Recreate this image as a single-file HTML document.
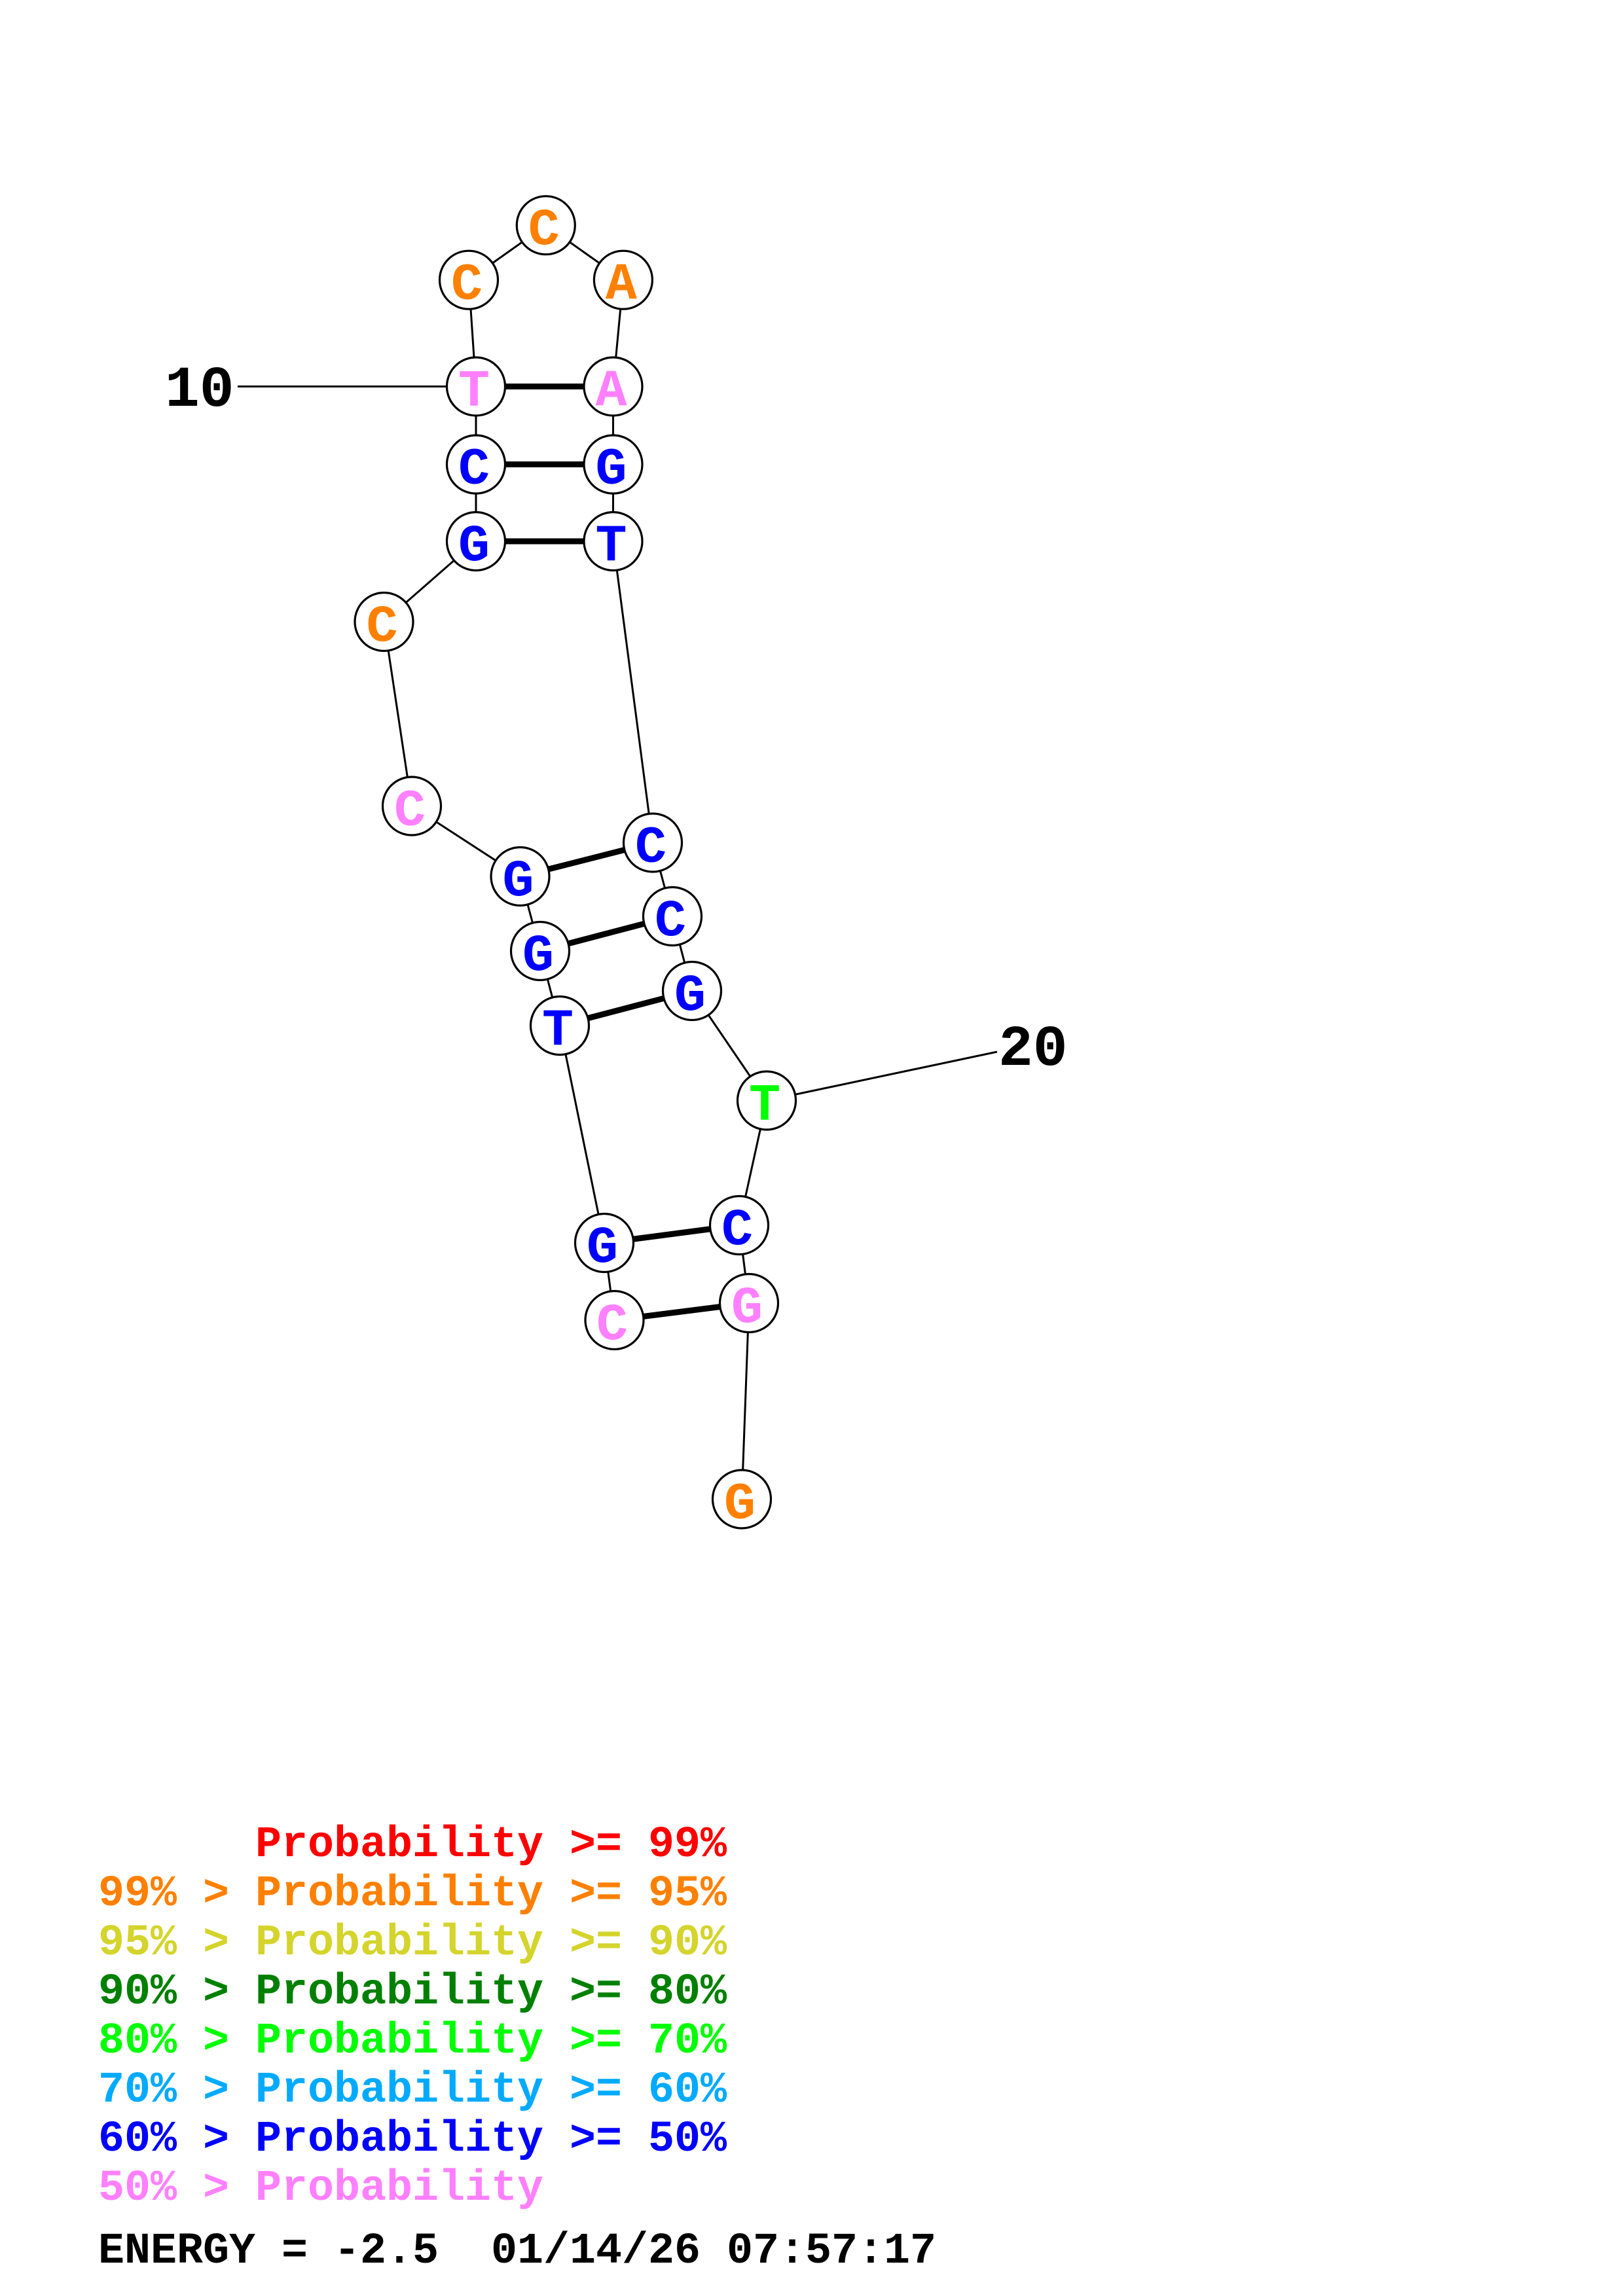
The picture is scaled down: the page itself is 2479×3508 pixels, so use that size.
<!DOCTYPE html>
<html>
<head>
<meta charset="utf-8">
<style>
html,body{margin:0;padding:0;background:#fff;}
svg{display:block;}
.nt{font-family:"Liberation Mono","DejaVu Sans Mono",monospace;font-weight:bold;font-size:80px;text-anchor:middle;}
.lbl{font-family:"Liberation Mono","DejaVu Sans Mono",monospace;font-weight:bold;font-size:88px;}
.leg{font-family:"Liberation Mono","DejaVu Sans Mono",monospace;font-weight:bold;font-size:66.67px;white-space:pre;}
</style>
</head>
<body>
<svg width="2479" height="3508" viewBox="0 0 2479 3508" xmlns="http://www.w3.org/2000/svg">
<rect width="2479" height="3508" fill="#fff"/>
<!-- label connectors -->
<g stroke="#000" stroke-width="3" fill="none">
<line x1="363" y1="590.5" x2="727" y2="590.5"/>
<line x1="1171" y1="1681.5" x2="1523" y2="1607"/>
</g>
<!-- backbone -->
<polyline fill="none" stroke="#000" stroke-width="3" points="938.5,2017 923,1899 855,1567 825,1453 794.5,1339 629,1231.5 586.5,950 727,827 727,709.5 727,590.5 716,427.7 833.8,344.2 951.9,427.7 936.5,590.5 936.5,709.5 936.5,827 997,1287.5 1027,1400 1057,1514 1171,1681.5 1129,1872 1144,1991 1133,2290.5"/>
<!-- pairs -->
<g stroke="#000" stroke-width="9">
<line x1="938.5" y1="2017" x2="1144" y2="1991"/>
<line x1="923" y1="1899" x2="1129" y2="1872"/>
<line x1="855" y1="1567" x2="1057" y2="1514"/>
<line x1="825" y1="1453" x2="1027" y2="1400"/>
<line x1="794.5" y1="1339" x2="997" y2="1287.5"/>
<line x1="727" y1="827" x2="936.5" y2="827"/>
<line x1="727" y1="709.5" x2="936.5" y2="709.5"/>
<line x1="727" y1="590.5" x2="936.5" y2="590.5"/>
</g>
<!-- nodes -->
<g stroke="#000" stroke-width="3.2" fill="#fff">
<circle cx="938.5" cy="2017" r="44.5"/>
<circle cx="923" cy="1899" r="44.5"/>
<circle cx="855" cy="1567" r="44.5"/>
<circle cx="825" cy="1453" r="44.5"/>
<circle cx="794.5" cy="1339" r="44.5"/>
<circle cx="629" cy="1231.5" r="44.5"/>
<circle cx="586.5" cy="950" r="44.5"/>
<circle cx="727" cy="827" r="44.5"/>
<circle cx="727" cy="709.5" r="44.5"/>
<circle cx="727" cy="590.5" r="44.5"/>
<circle cx="716" cy="427.7" r="44.5"/>
<circle cx="833.8" cy="344.2" r="44.5"/>
<circle cx="951.9" cy="427.7" r="44.5"/>
<circle cx="936.5" cy="590.5" r="44.5"/>
<circle cx="936.5" cy="709.5" r="44.5"/>
<circle cx="936.5" cy="827" r="44.5"/>
<circle cx="997" cy="1287.5" r="44.5"/>
<circle cx="1027" cy="1400" r="44.5"/>
<circle cx="1057" cy="1514" r="44.5"/>
<circle cx="1171" cy="1681.5" r="44.5"/>
<circle cx="1129" cy="1872" r="44.5"/>
<circle cx="1144" cy="1991" r="44.5"/>
<circle cx="1133" cy="2290.5" r="44.5"/>
</g>
<!-- letters -->
<g class="nt">
<text x="935" y="2046" fill="#FF80FF">C</text>
<text x="920" y="1928" fill="#0000FF">G</text>
<text x="852" y="1596" fill="#0000FF">T</text>
<text x="822" y="1482" fill="#0000FF">G</text>
<text x="791.5" y="1368" fill="#0000FF">G</text>
<text x="626" y="1260.5" fill="#FF80FF">C</text>
<text x="583.5" y="979" fill="#FF8000">C</text>
<text x="724" y="856" fill="#0000FF">G</text>
<text x="724" y="738.5" fill="#0000FF">C</text>
<text x="724" y="619.5" fill="#FF80FF">T</text>
<text x="713" y="456.7" fill="#FF8000">C</text>
<text x="830.8" y="373.2" fill="#FF8000">C</text>
<text x="948.9" y="456.7" fill="#FF8000">A</text>
<text x="933.5" y="619.5" fill="#FF80FF">A</text>
<text x="933.5" y="738.5" fill="#0000FF">G</text>
<text x="933.5" y="856" fill="#0000FF">T</text>
<text x="994" y="1316.5" fill="#0000FF">C</text>
<text x="1024" y="1429" fill="#0000FF">C</text>
<text x="1054" y="1543" fill="#0000FF">G</text>
<text x="1168" y="1710.5" fill="#00FF00">T</text>
<text x="1126" y="1901" fill="#0000FF">C</text>
<text x="1141" y="2020" fill="#FF80FF">G</text>
<text x="1130" y="2319.5" fill="#FF8000">G</text>
</g>
<!-- numbering labels -->
<text class="lbl" x="252" y="620" fill="#000">10</text>
<text class="lbl" x="1525" y="1627" fill="#000">20</text>
<!-- legend -->
<g class="leg">
<text x="150" y="2836" fill="#FF0000" xml:space="preserve">      Probability &gt;= 99%</text>
<text x="150" y="2911" fill="#FF8000" xml:space="preserve">99% &gt; Probability &gt;= 95%</text>
<text x="150" y="2986" fill="#D4D42C" xml:space="preserve">95% &gt; Probability &gt;= 90%</text>
<text x="150" y="3061" fill="#008000" xml:space="preserve">90% &gt; Probability &gt;= 80%</text>
<text x="150" y="3136" fill="#00FF00" xml:space="preserve">80% &gt; Probability &gt;= 70%</text>
<text x="150" y="3211" fill="#00AAFF" xml:space="preserve">70% &gt; Probability &gt;= 60%</text>
<text x="150" y="3286" fill="#0000FF" xml:space="preserve">60% &gt; Probability &gt;= 50%</text>
<text x="150" y="3361" fill="#FF80FF" xml:space="preserve">50% &gt; Probability</text>
<text x="150" y="3457" fill="#000000" xml:space="preserve">ENERGY = -2.5  01/14/26 07:57:17</text>
</g>
</svg>
</body>
</html>
